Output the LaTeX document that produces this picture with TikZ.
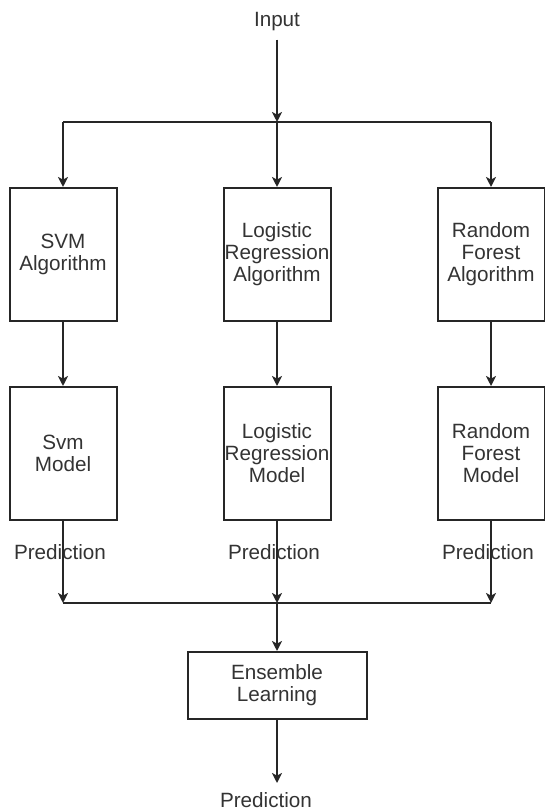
\documentclass[tikz,border=0pt]{standalone}
\usepackage{fontspec}
\setmainfont{Liberation Sans}
\usepackage{tikz}
\usetikzlibrary{%
  arrows.meta,
  positioning
}
\tikzset{
  flowline/.style={
    line width=1.5pt,
    draw=black!85,
  },
  flowarrow/.style={
    flowline,
    -{Stealth[length=7.5pt, width=7.5pt, inset=2pt]},
  },
  algobox/.style={
    draw=black!85,
    line width=1.5pt,
    minimum width=80.25pt,
    minimum height=99.75pt,
    inner sep=0pt,
    align=center,
    text=black!80,
  },
  ensbox/.style={
    algobox,
    minimum width=134.25pt,
    minimum height=50.25pt,
  },
  flowlabel/.style={
    text=black!80,
    inner sep=2pt,
  },
}

\begin{document}
\begin{tikzpicture}[x=7.5pt, y=7.5pt,
    every node/.append style={font=\fontsize{15.5}{16.5}\selectfont}]
    \useasboundingbox (0.00, 0.00) rectangle (54.40, 81.20) ;

    \node [flowlabel] (input) at (27.70, 79.00) {Input} ;
    \coordinate (split)  at (27.70, 69.00) ;
    \coordinate (splitL) at ( 6.30, 69.00) ;
    \coordinate (splitR) at (49.10, 69.00) ;

    \node [algobox] (svmalgo) at ( 6.30, 55.75) {SVM\\Algorithm} ;
    \node [algobox] (lralgo)  at (27.70, 55.75) {Logistic\\Regression\\Algorithm} ;
    \node [algobox] (rfalgo)  at (49.10, 55.75) {Random\\Forest\\Algorithm} ;

    \node [algobox] (svmmodel) at ( 6.30, 35.85) {Svm\\Model} ;
    \node [algobox] (lrmodel)  at (27.70, 35.85) {Logistic\\Regression\\Model} ;
    \node [algobox] (rfmodel)  at (49.10, 35.85) {Random\\Forest\\Model} ;

    \node [flowlabel] (svmpred) at ( 6.00, 26.00) {Prediction} ;
    \node [flowlabel] (lrpred)  at (27.40, 26.00) {Prediction} ;
    \node [flowlabel] (rfpred)  at (48.80, 26.00) {Prediction} ;

    \coordinate (merge)  at (27.70, 20.90) ;
    \coordinate (mergeL) at ( 6.30, 20.90) ;
    \coordinate (mergeR) at (49.10, 20.90) ;

    \node [ensbox] (ensemble) at (27.70, 12.65) {Ensemble\\Learning} ;
    \node [flowlabel] (finalpred) at (26.60,  1.20) {Prediction} ;
    \coordinate (finaltip) at (27.70,  2.90) ;

    \begin{scope}[flowline]
      \draw (splitL) -- (splitR) ;
      \draw (mergeL) -- (mergeR) ;
    \end{scope}

    \begin{scope}[flowarrow]
      \draw [shorten <=4pt] (input.south) -- (split) ;
      \draw (splitL) -- (svmalgo.north) ;
      \draw (split)  -- (lralgo.north) ;
      \draw (splitR) -- (rfalgo.north) ;

      \draw (svmalgo.south) -- (svmmodel.north) ;
      \draw (lralgo.south)  -- (lrmodel.north) ;
      \draw (rfalgo.south)  -- (rfmodel.north) ;

      \draw (svmmodel.south) -- (mergeL) ;
      \draw (lrmodel.south)  -- (merge) ;
      \draw (rfmodel.south)  -- (mergeR) ;

      \draw (merge) -- (ensemble.north) ;
      \draw (ensemble.south) -- (finaltip) ;
    \end{scope}
  \end{tikzpicture}
\end{document}
